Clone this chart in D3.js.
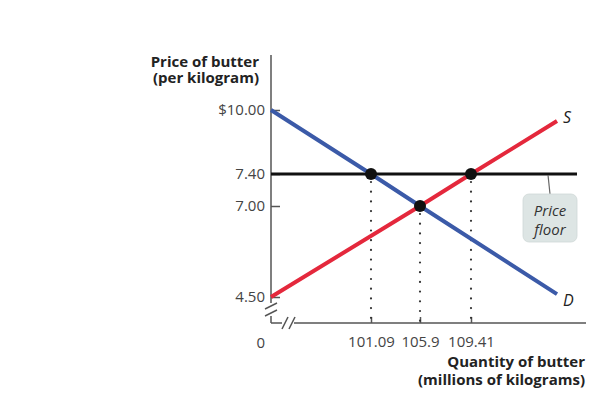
<!DOCTYPE html>
<html>
<head>
<meta charset="utf-8">
<script src="https://cdn.jsdelivr.net/npm/d3@7"></script>
<style>
  body { margin: 0; background: #fff; }
  text { font-family: "Open Sans", Lato, sans-serif; }
</style>
</head>
<body>
<svg width="606" height="397"></svg>
<script>
// values (schematic, broken axes)
var priceTicks = [4.5, 7.0, 7.4, 10];
var priceLabels = ["4.50", "7.00", "7.40", "$10.00"];
var qtyTicks = [101.09, 105.9, 109.41];
var qtyLabels = ["101.09", "105.9", "109.41"];

var demandQ = [91, 101.09, 105.9, 115];
var demandP = [10, 7.4, 7.0, 4.58];
var supplyQ = [91, 105.9, 109.41, 115];
var supplyP = [4.5, 7.0, 7.4, 9.55];

var floorPrice = 7.4;
var floorQ = [91, 116.3];

// points where the floor / curves meet
var pointsQ = [101.09, 105.9, 109.41];
var pointsP = [7.4, 7.0, 7.4];

window.onload = function() {
    makeChart();
}

function makeChart() {
    var svg = d3.select("svg");

    // the axes are not to scale, so the scales are piecewise
    var x = d3.scaleLinear()
        .domain([91, 101.09, 105.9, 109.41, 115])
        .range([271, 371, 420, 471, 557]);

    var y = d3.scaleLinear()
        .domain([4.5, 7.0, 7.4, 10])
        .range([297, 206, 174, 110]);

    var x0 = 271, y0 = 323;
    var axisColor = "#555";
    var fs = 15;

    // y axis with a break
    var ax = svg.append("g").attr("stroke", axisColor).attr("stroke-width", 1.5).attr("fill", "none");
    ax.append("line").attr("x1", x0).attr("x2", x0).attr("y1", 55).attr("y2", 303);
    ax.append("line").attr("x1", x0).attr("x2", x0).attr("y1", 316).attr("y2", y0);
    [306, 313].forEach(function(c) {
        ax.append("line").attr("x1", x0 - 6).attr("y1", c + 3).attr("x2", x0 + 6).attr("y2", c - 3);
    });
    // x axis with a break
    ax.append("line").attr("x1", x0).attr("x2", 282).attr("y1", y0).attr("y2", y0);
    ax.append("line").attr("x1", 294).attr("x2", 586).attr("y1", y0).attr("y2", y0);
    [285, 292].forEach(function(c) {
        ax.append("line").attr("x1", c - 3).attr("y1", y0 + 6).attr("x2", c + 3).attr("y2", y0 - 6);
    });

    // y ticks
    var yAxis = svg.append("g")
        .attr("transform", "translate(" + x0 + ",0)")
        .call(d3.axisLeft(y).tickValues(priceTicks).tickSize(-9).tickPadding(6)
            .tickFormat(function(d, i) { return priceLabels[i]; }));
    yAxis.select(".domain").remove();
    yAxis.selectAll("line").attr("stroke", axisColor).attr("stroke-width", 1.5);
    yAxis.selectAll("text").attr("font-size", fs).attr("fill", "#444")
        .attr("font-family", "'Open Sans', sans-serif");

    // x ticks
    var xAxis = svg.append("g")
        .attr("transform", "translate(0," + y0 + ")")
        .call(d3.axisBottom(x).tickValues(qtyTicks).tickSize(-6).tickPadding(13)
            .tickFormat(function(d, i) { return qtyLabels[i]; }));
    xAxis.select(".domain").remove();
    xAxis.selectAll("line").attr("stroke", axisColor).attr("stroke-width", 1.5);
    xAxis.selectAll("text").attr("font-size", fs).attr("fill", "#444")
        .attr("font-family", "'Open Sans', sans-serif");

    // origin label
    svg.append("text").attr("x", 265).attr("y", 348).attr("text-anchor", "end")
        .attr("font-size", fs).attr("fill", "#444").text("0");

    // axis titles
    var yt = svg.append("text").attr("text-anchor", "end").attr("font-size", fs)
        .attr("font-weight", "bold").attr("fill", "#222");
    yt.append("tspan").attr("x", 259).attr("y", 67).text("Price of butter");
    yt.append("tspan").attr("x", 259).attr("y", 83).text("(per kilogram)");

    var xt = svg.append("text").attr("text-anchor", "end").attr("font-size", fs)
        .attr("font-weight", "bold").attr("fill", "#222");
    xt.append("tspan").attr("x", 585).attr("y", 367).text("Quantity of butter");
    xt.append("tspan").attr("x", 585).attr("y", 385).text("(millions of kilograms)");

    // dotted drop lines
    svg.selectAll(".drop")
        .data(pointsQ)
        .enter().append("line")
        .attr("class", "drop")
        .attr("x1", function(d) { return x(d); })
        .attr("x2", function(d) { return x(d); })
        .attr("y1", function(d, i) { return y(pointsP[i]) + 8; })
        .attr("y2", y0 - 2)
        .attr("stroke", "#333")
        .attr("stroke-width", 2.2)
        .attr("stroke-linecap", "round")
        .attr("stroke-dasharray", "0,9.7");

    var line = d3.line()
        .x(function(d) { return x(d[0]); })
        .y(function(d) { return y(d[1]); });

    // price floor
    svg.append("path")
        .attr("d", line(floorQ.map(function(q) { return [q, floorPrice]; })))
        .attr("stroke", "#111").attr("stroke-width", 3).attr("fill", "none");

    // demand and supply
    svg.append("path")
        .attr("d", line(demandQ.map(function(q, i) { return [q, demandP[i]]; })))
        .attr("stroke", "#3b5aa8").attr("stroke-width", 4).attr("fill", "none");
    svg.append("path")
        .attr("d", line(supplyQ.map(function(q, i) { return [q, supplyP[i]]; })))
        .attr("stroke", "#e4283c").attr("stroke-width", 4).attr("fill", "none");

    // points
    svg.selectAll(".pt")
        .data(pointsQ)
        .enter().append("circle")
        .attr("class", "pt")
        .attr("cx", function(d) { return x(d); })
        .attr("cy", function(d, i) { return y(pointsP[i]); })
        .attr("r", 6)
        .attr("fill", "#111");

    // curve labels
    svg.append("text").attr("x", 563).attr("y", 123).attr("font-size", 16)
        .attr("font-style", "italic").attr("fill", "#222").text("S");
    svg.append("text").attr("x", 563).attr("y", 306).attr("font-size", 16)
        .attr("font-style", "italic").attr("fill", "#222").text("D");

    // price floor callout
    svg.append("line").attr("x1", 548).attr("y1", y(floorPrice) + 1)
        .attr("x2", 550).attr("y2", 194)
        .attr("stroke", "#666").attr("stroke-width", 1.2);
    svg.append("rect").attr("x", 523).attr("y", 194).attr("width", 54).attr("height", 48)
        .attr("rx", 6).attr("fill", "#dde5e4").attr("stroke", "#cfd8d7").attr("stroke-width", 0.8);
    var pf = svg.append("text").attr("text-anchor", "middle").attr("font-size", fs)
        .attr("font-style", "italic").attr("fill", "#333");
    pf.append("tspan").attr("x", 550).attr("y", 216).text("Price");
    pf.append("tspan").attr("x", 550).attr("y", 235).text("floor");
}
</script>
</body>
</html>
